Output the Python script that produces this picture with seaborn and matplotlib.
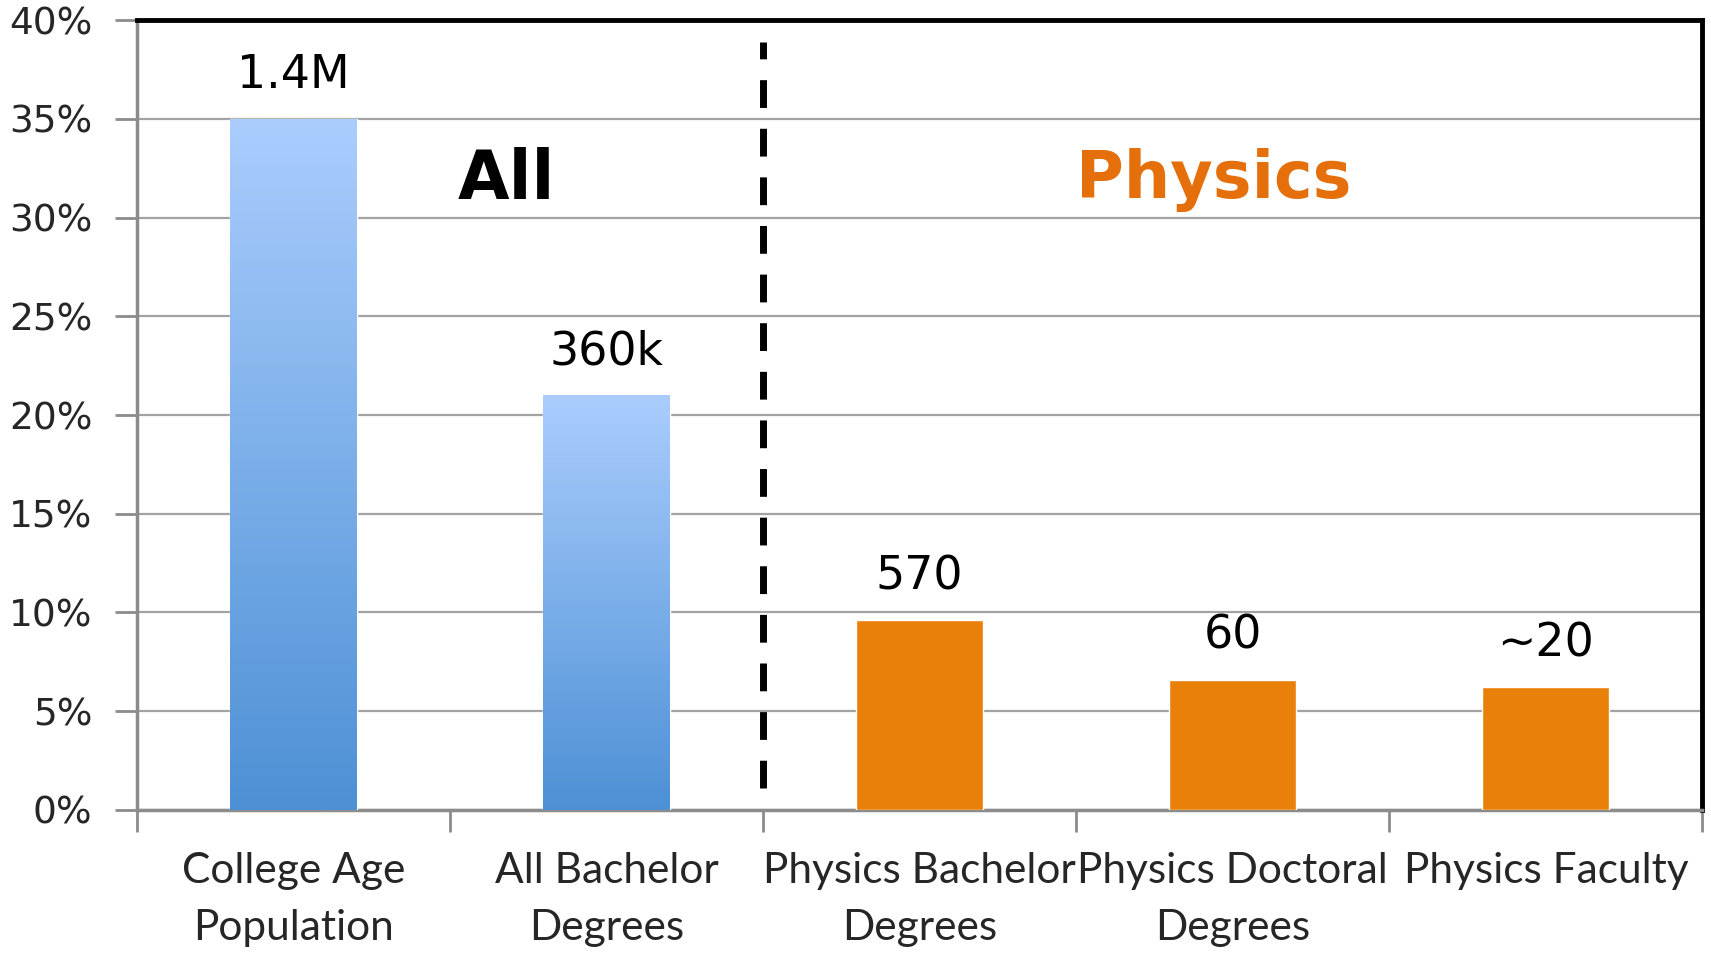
import numpy as np
import matplotlib
matplotlib.use("Agg")
import matplotlib.pyplot as plt
import seaborn as sns
from matplotlib.colors import LinearSegmentedColormap

# data
categories = ["College Age\nPopulation", "All Bachelor\nDegrees",
              "Physics Bachelor\nDegrees", "Physics Doctoral\nDegrees",
              "Physics Faculty"]
shares = [35.0, 21.0, 9.6, 6.6, 6.2]
counts = ["1.4M", "360k", "570", "60", "~20"]
groups = ["All", "All", "Physics", "Physics", "Physics"]
yticks = [0, 5, 10, 15, 20, 25, 30, 35, 40]

BLUE_TOP, BLUE_BOT = "#aacdfd", "#4d90d5"
ORANGE = "#e9800a"

sns.set_style("white")
plt.rcParams['font.family'] = ['DejaVu Sans']

fig = plt.figure(figsize=(17.11, 9.63), dpi=100)
ax = fig.add_axes([0.080, 0.159, 0.915, 0.820])

palette = {c: (BLUE_BOT if g == "All" else ORANGE) for c, g in zip(categories, groups)}
sns.barplot(x=categories, y=shares, hue=categories, palette=palette,
            width=0.405, legend=False, ax=ax, zorder=3, saturation=1)

# gradient fill on the "All" bars
cmap = LinearSegmentedColormap.from_list("bl", [BLUE_BOT, BLUE_TOP])
for bar, g in zip(ax.patches, groups):
    if g != "All":
        continue
    x0, w, h = bar.get_x(), bar.get_width(), bar.get_height()
    grad = np.linspace(0, 1, 256).reshape(-1, 1)
    im = ax.imshow(grad, cmap=cmap, origin="lower", aspect="auto",
                   extent=[x0, x0 + w, 0, h], zorder=4)
    im.set_clip_path(bar)

for bar, lab in zip(ax.patches, counts):
    ax.text(bar.get_x() + bar.get_width() / 2, bar.get_height() + 2.2, lab,
            ha="center", va="center", fontsize=33, color="black", zorder=6)

ax.set_xlim(-0.5, 4.5)
ax.set_ylim(0, 40)
ax.set_yticks(yticks)
ax.set_yticklabels([f"{t}%" for t in yticks], fontsize=27)
ax.yaxis.grid(True, color="#a3a3a3", lw=1.6)
ax.set_axisbelow(True)

# category ticks at boundaries
ax.set_xticks(np.arange(len(categories)))
ax.set_xticklabels(categories, fontsize=30.5, family=["Lato", "DejaVu Sans"],
                   linespacing=1.62)
ax.tick_params(axis="x", which="major", bottom=True, length=0, pad=30)
ax.set_xticks(np.arange(-0.5, len(categories)), minor=True)
ax.tick_params(axis="x", which="minor", bottom=True, length=16, width=2,
               color="#8c8c8c", direction="out")
ax.tick_params(axis="y", left=True, length=16, width=2, color="#8c8c8c",
               direction="out", pad=16)

for side in ["left", "bottom"]:
    ax.spines[side].set_color("#8c8c8c")
    ax.spines[side].set_linewidth(2.5)
for side in ["top", "right"]:
    ax.spines[side].set_color("black")
    ax.spines[side].set_linewidth(3.5)

# divider and group headings
ax.plot([1.5, 1.5], [1.1, 38.9], color="black", lw=5,
        dashes=(4.0, 3.0), zorder=5)
ax.text(0.68, 31.9, "All", fontsize=48, fontweight="bold", color="black",
        ha="center", va="center", zorder=6)
ax.text(2.94, 31.9, "Physics", fontsize=47, fontweight="bold", color="#e46f0b",
        ha="center", va="center", zorder=6)

fig.savefig("out.png", dpi=100)
